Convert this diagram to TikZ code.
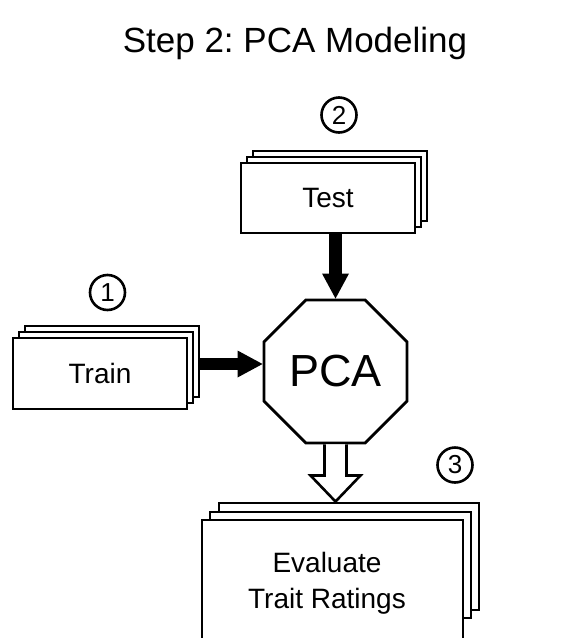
\documentclass[tikz,border=0pt]{standalone}
\usepackage{fontspec}
\setmainfont{Liberation Sans}
\usetikzlibrary{arrows.meta,shapes.geometric,calc}
\frenchspacing

\begin{document}
\begin{tikzpicture}[x=1pt,y=-1pt,
  page/.style={draw=black, line width=2.9pt, fill=white, inner sep=0pt},
  boxtext/.style={font=\fontsize{28}{36}\selectfont},
  numcirc/.style={circle, draw, line width=2.6pt, minimum size=35pt, inner sep=0pt,
                  font=\fontsize{26}{26}\selectfont},
  bigarrow/.style={line width=12.5pt, -{Triangle[length=25pt,width=27pt,line width=0pt]}},
]
\useasboundingbox (0,0) rectangle (587,638);
\clip (0,0) rectangle (587,638);
\fill[white] (0,0) rectangle (587,638);

% title
\node[font=\fontsize{35}{42}\selectfont, anchor=base] (title) at (295,52) {Step 2: PCA Modeling};

% Train stack
\node[page, minimum width=174pt, minimum height=71pt] (trainC) at (112,361.5) {};
\node[page, minimum width=174pt, minimum height=71pt] (trainB) at (106,367.5) {};
\node[page, boxtext, minimum width=174pt, minimum height=71pt] (trainA) at (100,373.5) {Train};
\node[numcirc] (one) at (107.5,292.5) {1};

% Test stack
\node[page, minimum width=174pt, minimum height=70pt] (testC) at (340,186) {};
\node[page, minimum width=174pt, minimum height=70pt] (testB) at (334,192) {};
\node[page, boxtext, minimum width=174pt, minimum height=70pt] (testA) at (328,198) {Test};
\node[numcirc] (two) at (339,115) {2};

% Evaluate stack
\node[page, minimum width=260pt, minimum height=107pt] (evalC) at (349,556.5) {};
\node[page, minimum width=261pt, minimum height=106pt] (evalB) at (340.5,565) {};
\node[page, minimum width=261pt, minimum height=140pt] (evalA) at (332.5,590) {};
\node[boxtext, align=center, inner sep=0pt] (evalText) at (327,583) {Evaluate\\Trait Ratings};
\node[numcirc] (three) at (455,465) {3};

% PCA block
\node[regular polygon, regular polygon sides=8, minimum size=154.8pt, draw, line width=2.9pt,
      fill=white, inner sep=0pt, font=\fontsize{45}{45}\selectfont] (pca) at (335.5,371.5) {PCA};

% connectors
\draw[bigarrow] ($(trainC.east)+(0,2.5)$) -- ($(trainC.east -| pca.west)+(0,2.5)$);
\draw[bigarrow] (pca.north |- testA.south) -- (pca.north);
\draw[line width=2.6pt, fill=white, line join=miter]
  ($(pca.south)+(-11,0)$) -- ($(pca.south)+(-11,31)$) -- ($(pca.south)+(-25,31)$)
  -- (pca.south |- evalC.north)
  -- ($(pca.south)+(25,31)$) -- ($(pca.south)+(11,31)$) -- ($(pca.south)+(11,0)$);
\end{tikzpicture}
\end{document}
